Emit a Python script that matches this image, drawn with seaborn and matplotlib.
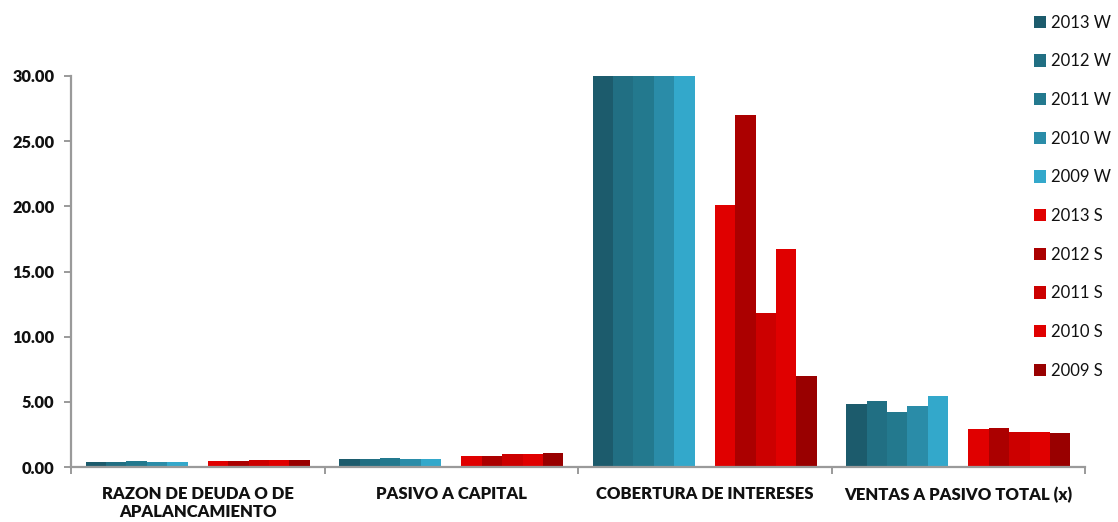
import numpy as np
import pandas as pd
import matplotlib
matplotlib.use("Agg")
import matplotlib.pyplot as plt
from matplotlib.patches import Patch
from matplotlib.ticker import FixedLocator, FormatStrFormatter
import seaborn as sns

# Financial ratios for W and S, 2009-2013
categories = ["RAZON DE DEUDA O DE\nAPALANCAMIENTO", "PASIVO A CAPITAL",
              "COBERTURA DE INTERESES", "VENTAS A PASIVO TOTAL (x)"]
series = ["2013 W", "2012 W", "2011 W", "2010 W", "2009 W",
          "2013 S", "2012 S", "2011 S", "2010 S", "2009 S"]

w_2013 = [0.38, 0.61, 41.5, 4.83]
w_2012 = [0.38, 0.61, 38.2, 5.07]
w_2011 = [0.46, 0.69, 36.9, 4.22]
w_2010 = [0.39, 0.62, 44.0, 4.68]
w_2009 = [0.39, 0.62, 52.3, 5.45]
s_2013 = [0.46, 0.84, 20.1, 2.89]
s_2012 = [0.46, 0.84, 27.0, 2.99]
s_2011 = [0.53, 0.97, 11.8, 2.69]
s_2010 = [0.53, 0.97, 16.7, 2.71]
s_2009 = [0.53, 1.07, 6.96, 2.61]

colors = ["#1c5b6c", "#216f83", "#23798e", "#2a8ca8", "#33a8cb",
          "#e00000", "#ab0000", "#cc0000", "#e00000", "#990000"]

values = [w_2013, w_2012, w_2011, w_2010, w_2009,
          s_2013, s_2012, s_2011, s_2010, s_2009]

# long-form table; a blank level keeps a gap between the W and S clusters
rows = []
for name, vals in zip(series, values):
    for cat, v in zip(categories, vals):
        rows.append({"categoria": cat, "serie": name, "valor": v})
for cat in categories:
    rows.append({"categoria": cat, "serie": " ", "valor": 0.0})
df = pd.DataFrame(rows)

hue_order = series[:5] + [" "] + series[5:]
palette = dict(zip(series, colors))
palette[" "] = "#ffffff"

sns.set_theme(style="white")
plt.rcParams["font.family"] = ["Lato", "DejaVu Sans"]

fig = plt.figure(figsize=(11.18, 5.22), dpi=100)
ax = fig.add_axes([71 / 1118, 55 / 522, (1085 - 71) / 1118, (467 - 76) / 522])

sns.barplot(data=df, x="categoria", y="valor", hue="serie", hue_order=hue_order,
            order=categories, palette=palette, width=0.884, linewidth=0,
            saturation=1, legend=False, ax=ax)

ax.set_ylim(0, 30)
ax.set_xlim(-0.5, len(categories) - 0.5)
ax.set_xlabel("")
ax.set_ylabel("")

# axes styling
for side in ["top", "right"]:
    ax.spines[side].set_visible(False)
for side in ["left", "bottom"]:
    ax.spines[side].set_color("#9a9a9a")
    ax.spines[side].set_linewidth(1.6)

ax.yaxis.set_major_locator(FixedLocator(np.arange(0, 31, 5)))
ax.yaxis.set_major_formatter(FormatStrFormatter("%.2f"))
ax.tick_params(axis="y", which="major", direction="out", length=5, width=1.4,
               color="#9a9a9a", pad=7, labelsize=11.8, left=True)
for lbl in ax.get_yticklabels():
    lbl.set_fontweight("heavy")
    lbl.set_color("#111111")

ax.set_xticks(range(len(categories)))
ax.set_xticklabels(categories, fontweight="heavy", fontsize=12, color="#111111",
                   linespacing=1.15)
ax.tick_params(axis="x", which="major", length=0, pad=14)
ax.xaxis.set_minor_locator(FixedLocator(np.arange(-0.5, len(categories), 1.0)))
ax.tick_params(axis="x", which="minor", direction="out", length=5, width=1.4,
               color="#9a9a9a", bottom=True)

handles = [Patch(facecolor=c, edgecolor="none", label=s) for s, c in zip(series, colors)]
fig.legend(handles=handles, loc="upper left", bbox_to_anchor=(1027 / 1118, 1 - 8 / 522),
           frameon=False, fontsize=12, handlelength=0.75, handleheight=0.75,
           handletextpad=0.3, labelspacing=1.36, borderaxespad=0,
           labelcolor="#111111")

fig.savefig("out.png", dpi=100)
